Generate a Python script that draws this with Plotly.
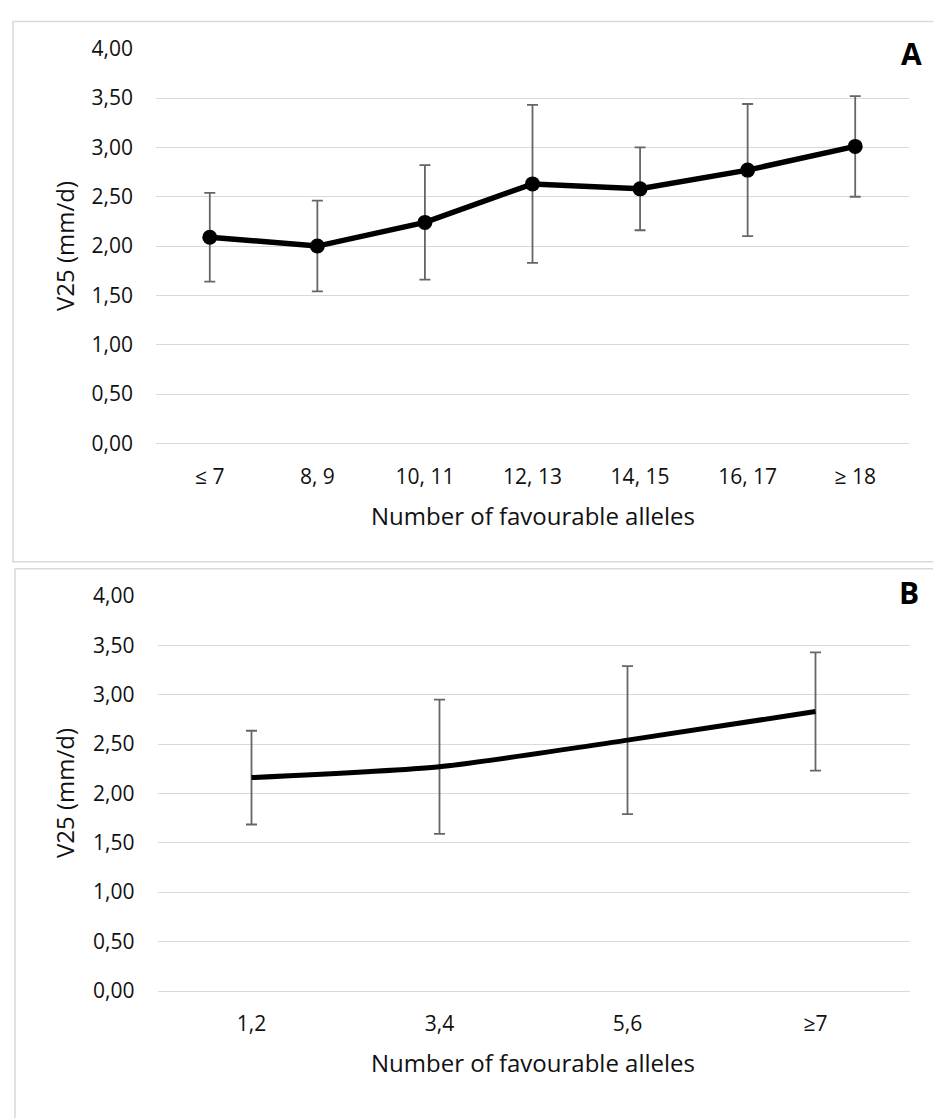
import plotly.graph_objects as go

# ---- data ----
cats_a = ["≤ 7", "8, 9", "10, 11", "12, 13", "14, 15", "16, 17", "≥ 18"]
mean_a = [2.09, 2.00, 2.24, 2.63, 2.58, 2.77, 3.01]
sd_a = [0.45, 0.46, 0.58, 0.80, 0.42, 0.67, 0.51]

cats_b = ["1,2", "3,4", "5,6", "≥7"]
mean_b = [2.16, 2.27, 2.54, 2.83]
sd_b = [0.475, 0.68, 0.75, 0.60]

y_ticks = [0, 0.5, 1.0, 1.5, 2.0, 2.5, 3.0, 3.5, 4.0]
x_title = "Number of favourable alleles"
y_title = "V25 (mm/d)"

W, H = 933, 1118
FONT = "Open Sans"
GRID = "#d9d9d9"
ERR = "#666666"
TXT = "#111111"

def px(v):
    return v / W

def py(v):
    return 1 - v / H

fig = go.Figure()

fig.add_trace(go.Scatter(
    x=cats_a, y=mean_a, mode="lines+markers",
    line=dict(color="black", width=5.5),
    marker=dict(color="black", size=15),
    error_y=dict(type="data", array=sd_a, symmetric=True,
                 color=ERR, thickness=1.8, width=5.5),
    xaxis="x", yaxis="y", showlegend=False,
))

fig.add_trace(go.Scatter(
    x=cats_b, y=mean_b, mode="lines",
    line=dict(color="black", width=5, shape="spline", smoothing=0.6),
    error_y=dict(type="data", array=sd_b, symmetric=True,
                 color=ERR, thickness=1.8, width=5.5),
    xaxis="x2", yaxis="y2", showlegend=False,
))

yax = dict(range=[0, 4], tickvals=y_ticks, tickformat=".2f",
           showgrid=True, gridcolor=GRID, gridwidth=1.4,
           zeroline=False, showline=False, ticks="",
           ticklabelstandoff=22,
           tickfont=dict(family=FONT, size=21, color=TXT),
           fixedrange=True)
xax = dict(type="category", showgrid=False, zeroline=False,
           showline=True, linecolor=GRID, linewidth=1.4, ticks="",
           ticklabelstandoff=14,
           tickfont=dict(family=FONT, size=21, color=TXT))

fig.update_layout(
    width=W, height=H,
    margin=dict(l=0, r=0, t=0, b=0),
    paper_bgcolor="white", plot_bgcolor="white",
    separators=",.",
    xaxis=dict(xax, domain=[px(156), px(909)], anchor="y",
               range=[-0.5, len(cats_a) - 0.5]),
    yaxis=dict(yax, domain=[py(439.4), py(34.6)], anchor="x"),
    xaxis2=dict(xax, domain=[px(157.5), px(909.5)], anchor="y2",
                range=[-0.5, len(cats_b) - 0.5]),
    yaxis2=dict(yax, domain=[py(1000.8), py(596)], anchor="x2"),
)

# panel borders
fig.add_shape(type="rect", xref="paper", yref="paper",
              x0=px(13), x1=1.05, y0=py(560.7), y1=py(6.7),
              line=dict(color=GRID, width=1.5), layer="below")
fig.add_shape(type="rect", xref="paper", yref="paper",
              x0=px(15), x1=1.05, y0=-0.05, y1=py(568),
              line=dict(color=GRID, width=1.5), layer="below")

ann_font = dict(family=FONT, size=24, color=TXT)
for yc_title, yc_ylab, label, lab_xy in [
    (513.5, 237, "A", (911, 39)),
    (1074, 798, "B", (909, 592)),
]:
    fig.add_annotation(text=x_title, xref="paper", yref="paper",
                       x=px(532.8), y=py(yc_title), showarrow=False,
                       xanchor="center", yanchor="middle", font=ann_font)
    fig.add_annotation(text=y_title, xref="paper", yref="paper",
                       x=px(64), y=py(yc_ylab), showarrow=False, textangle=-90,
                       xanchor="center", yanchor="middle", font=ann_font)
    fig.add_annotation(text="<b>" + label + "</b>", xref="paper", yref="paper",
                       x=px(lab_xy[0]), y=py(lab_xy[1]), showarrow=False,
                       xanchor="center", yanchor="middle",
                       font=dict(family=FONT, size=30, color="black"))

fig.write_html(
    "out.html",
    config={"displayModeBar": False},
    post_script=(
        "document.body.style.margin='0px';"
        "document.body.style.overflow='hidden';"
        "document.documentElement.style.overflow='hidden';"
    ),
)
